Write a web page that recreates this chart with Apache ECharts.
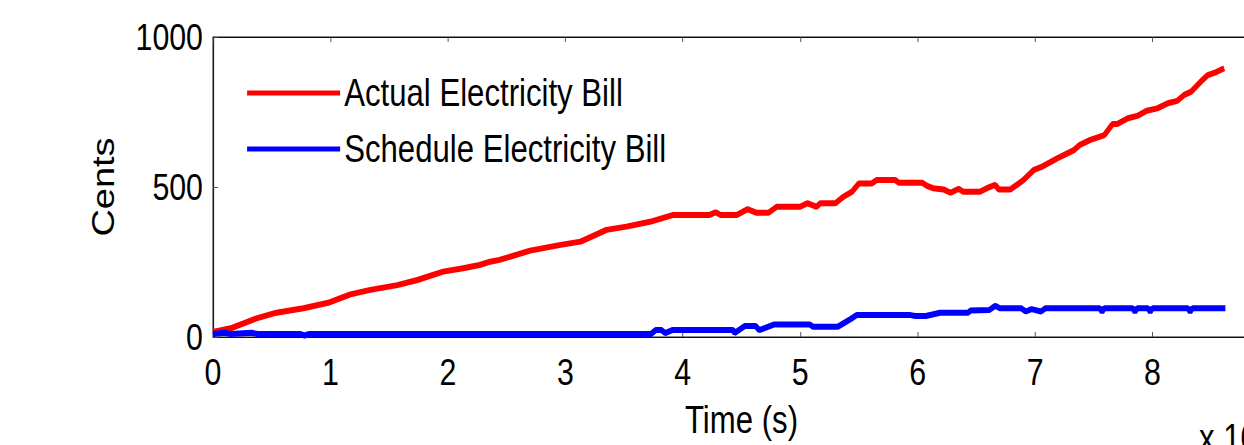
<!DOCTYPE html>
<html>
<head>
<meta charset="utf-8">
<script src="https://cdn.jsdelivr.net/npm/echarts@6/dist/echarts.min.js"></script>
<style>
  html, body { margin: 0; padding: 0; background: #fff; overflow: hidden; }
  #frame { width: 1244px; height: 445px; overflow: hidden; position: relative; }
  /* the figure uses a condensed Helvetica look: lay out wide, then squeeze horizontally */
  #chart { position: absolute; left: 0; top: 0; height: 445px; transform-origin: 0 0; }
</style>
</head>
<body>
<div id="frame"><div id="chart"></div></div>
<script>
// Time in units of 10^4 s, bill in cents
const actualTime = [0.00, 0.15, 0.37, 0.54, 0.77, 0.98, 1.17, 1.34, 1.57, 1.74, 1.96, 2.13, 2.27, 2.36, 2.44, 2.70, 2.96, 3.13, 3.35, 3.52, 3.72, 3.92, 4.23, 4.28, 4.32, 4.46, 4.55, 4.63, 4.73, 4.80, 5.00, 5.06, 5.14, 5.17, 5.30, 5.37, 5.44, 5.50, 5.61, 5.65, 5.81, 5.84, 6.04, 6.08, 6.13, 6.22, 6.28, 6.35, 6.39, 6.53, 6.59, 6.66, 6.69, 6.79, 6.90, 6.99, 7.05, 7.19, 7.33, 7.38, 7.47, 7.59, 7.66, 7.70, 7.79, 7.87, 7.95, 8.04, 8.13, 8.21, 8.27, 8.33, 8.41, 8.47, 8.53, 8.61];
const actualCents = [17, 29, 62, 81, 96, 114, 142, 157, 173, 190, 218, 229, 240, 251, 257, 288, 307, 318, 357, 368, 384, 407, 407, 416, 407, 407, 426, 414, 414, 434, 434, 446, 434, 446, 446, 468, 484, 512, 512, 523, 523, 514, 514, 504, 496, 492, 481, 494, 484, 484, 496, 507, 492, 492, 523, 557, 566, 596, 623, 640, 657, 673, 710, 710, 729, 737, 754, 762, 779, 787, 807, 818, 851, 873, 881, 896];

const scheduleTime = [0.00, 0.10, 0.15, 0.33, 0.38, 0.74, 0.78, 0.82, 3.73, 3.77, 3.82, 3.85, 3.91, 4.43, 4.44, 4.53, 4.62, 4.65, 4.78, 5.08, 5.11, 5.32, 5.43, 5.48, 5.94, 5.98, 6.07, 6.19, 6.43, 6.45, 6.61, 6.66, 6.70, 6.88, 6.92, 6.97, 7.05, 7.09, 7.55, 7.57, 7.59, 7.83, 7.85, 7.87, 7.96, 7.98, 8.00, 8.30, 8.32, 8.34, 8.62];
const scheduleCents = [10, 14, 10, 14, 10, 10, 5, 10, 10, 23, 23, 13, 23, 23, 13, 37, 37, 23, 42, 42, 34, 34, 60, 73, 73, 70, 70, 81, 81, 88, 90, 104, 96, 96, 85, 93, 85, 96, 96, 84, 96, 96, 84, 96, 96, 84, 96, 96, 84, 96, 96];

const xTicks = [0, 1, 2, 3, 4, 5, 6, 7, 8];
const yTicks = [0, 500, 1000];

const seriesNames = ['Actual Electricity Bill', 'Schedule Electricity Bill'];

const zip = (xs, ys) => xs.map((x, i) => [x, ys[i]]);

// horizontal squeeze factor; horizontal layout values below are in pre-squeeze units
const SX = 0.82;
const h = px => px / SX;

const FONT = '"Liberation Sans", Arial, Helvetica, sans-serif';
const FS = 38;
const FS_TICK = 37;

const el = document.getElementById('chart');
el.style.width = Math.round(1244 / SX) + 'px';
el.style.transform = 'scaleX(' + SX + ')';

const chart = echarts.init(el, null, { renderer: 'svg' });

const xTick = { show: true, inside: true, length: 5, lineStyle: { color: '#444', width: 1 } };
const yTick = { show: true, inside: true, length: h(5), lineStyle: { color: '#444', width: 1 } };

chart.setOption({
  animation: false,
  backgroundColor: '#ffffff',
  textStyle: { fontFamily: FONT },
  grid: {
    left: h(213), top: 37, width: h(1057), height: 300,
    outerBoundsMode: 'none',
    show: true, borderColor: '#000', borderWidth: 1, backgroundColor: 'transparent'
  },
  legend: {
    orient: 'vertical',
    left: h(243), top: 68,
    icon: 'rect',
    itemWidth: h(93), itemHeight: 5,
    itemGap: 16,
    textStyle: { fontFamily: FONT, fontSize: FS, lineHeight: 40, color: '#000', padding: [0, 0, 0, 0] },
    data: seriesNames
  },
  xAxis: [{
    type: 'value', min: 0, max: 9, interval: 1,
    name: 'Time (s)', nameLocation: 'middle', nameGap: 64,
    nameTextStyle: { fontFamily: FONT, fontSize: FS, color: '#000' },
    axisLine: { show: true, lineStyle: { color: '#000', width: 1 } },
    axisTick: xTick,
    splitLine: { show: false },
    axisLabel: {
      fontFamily: FONT, fontSize: FS_TICK, color: '#000', margin: 16,
      formatter: v => (xTicks.includes(v) ? String(v) : '')
    }
  }, {
    type: 'value', position: 'top', min: 0, max: 9, interval: 1,
    axisLine: { show: true, lineStyle: { color: '#000', width: 1 } },
    axisTick: xTick,
    axisLabel: { show: false },
    splitLine: { show: false }
  }],
  yAxis: {
    type: 'value', min: 0, max: 1000, interval: 500,
    name: 'Cents', nameLocation: 'middle', nameGap: h(94),
    nameTextStyle: { fontFamily: FONT, fontSize: FS, color: '#000' },
    axisLine: { show: true, lineStyle: { color: '#000', width: 1 } },
    axisTick: yTick,
    splitLine: { show: false },
    axisLabel: {
      fontFamily: FONT, fontSize: FS_TICK, color: '#000', margin: h(10),
      formatter: v => (yTicks.includes(v) ? String(v) : '')
    }
  },
  graphic: [{
    type: 'text', left: h(1199), top: 419,
    style: { text: 'x 10', font: FS + 'px ' + FONT, fill: '#000' }
  }],
  series: [{
    name: seriesNames[0], type: 'line', showSymbol: false, symbol: 'none',
    data: zip(actualTime, actualCents),
    lineStyle: { color: '#ff0000', width: 6 }, itemStyle: { color: '#ff0000' }
  }, {
    name: seriesNames[1], type: 'line', showSymbol: false, symbol: 'none',
    data: zip(scheduleTime, scheduleCents),
    lineStyle: { color: '#0000ff', width: 6 }, itemStyle: { color: '#0000ff' }
  }]
});
</script>
</body>
</html>
